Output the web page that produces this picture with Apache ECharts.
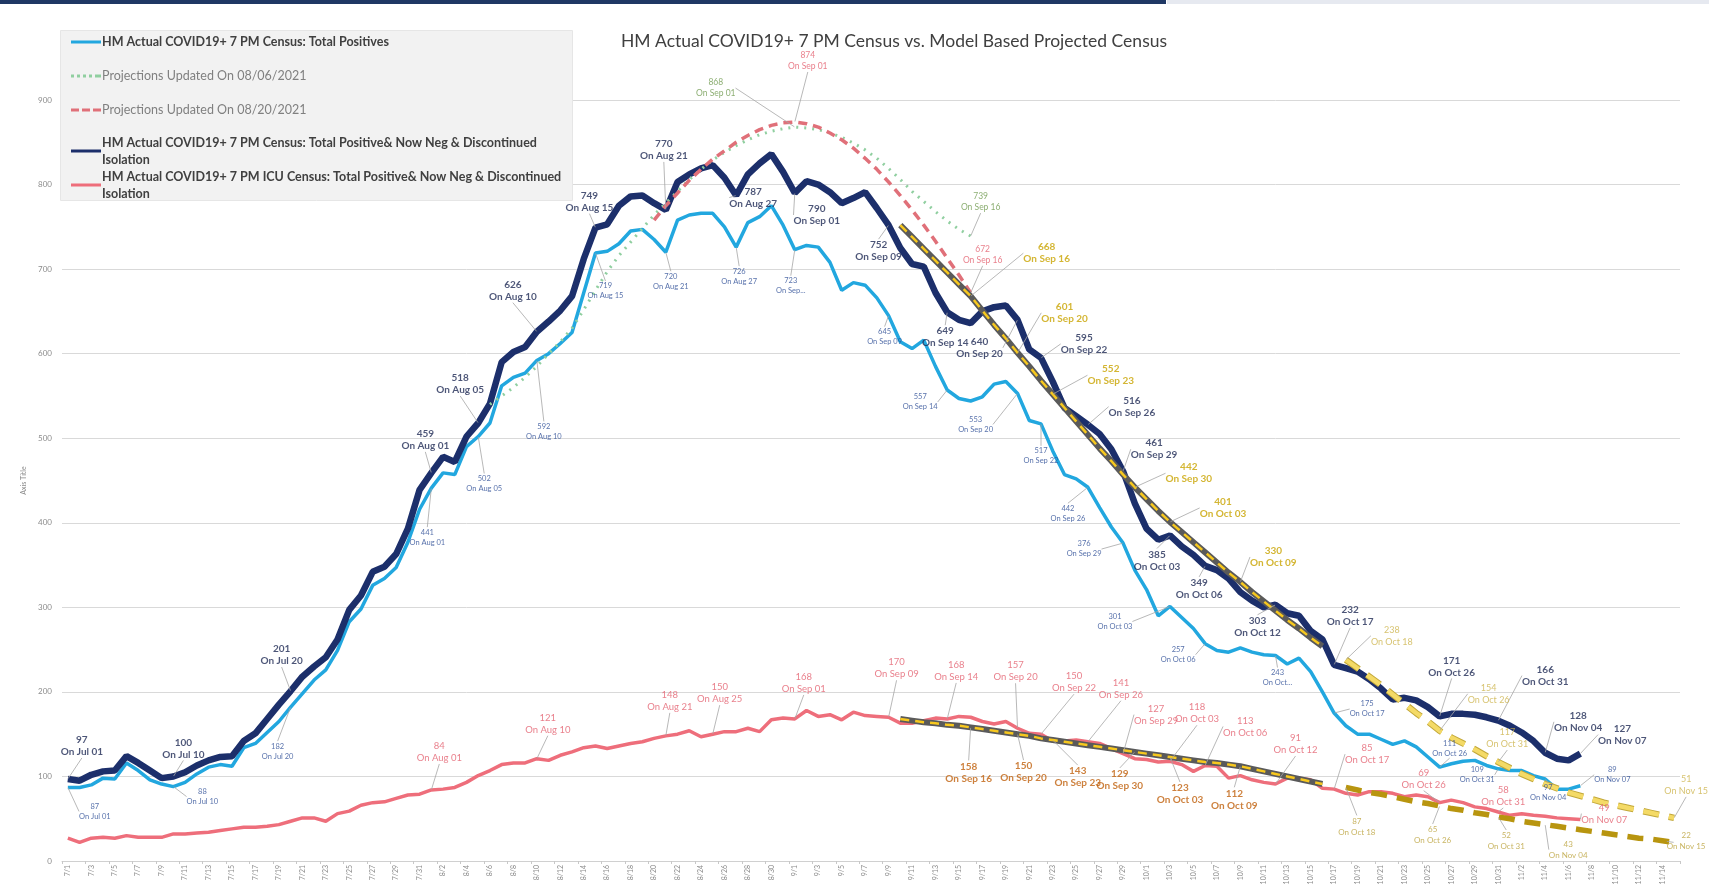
<!DOCTYPE html>
<html>
<head>
<meta charset="utf-8">
<script src="https://cdn.jsdelivr.net/npm/echarts@6/dist/echarts.min.js"></script>
<style>
  html, body { margin: 0; padding: 0; background: #fff; }
  #chart { width: 1709px; height: 892px; }
</style>
</head>
<body>
<div id="chart"></div>
<script>
// categories: 7/1 .. 11/15
var monthDays = [['7', 31], ['8', 31], ['9', 30], ['10', 31], ['11', 15]]
var dates = []
monthDays.forEach(function (m) { for (var i = 1; i <= m[1]; i++) dates.push(m[0] + '/' + i) })
var monthName = { 7: 'Jul', 8: 'Aug', 9: 'Sep', 10: 'Oct', 11: 'Nov' }

// actual census, 7/1 .. 11/7
var censusAll = [
  97, 95, 102, 106, 107, 124, 116, 107, 98, 100, 105, 113, 119, 123, 124, 142, 151, 168, 185, 201, 218, 230, 241, 262, 297, 314, 342, 348, 363, 393, 439,
  459, 478, 472, 502, 518, 541, 590, 602, 608, 626, 638, 651, 668, 712, 749, 753, 775, 786, 787, 778, 770, 803, 812, 819, 823, 808, 787, 812, 825, 836, 815,
  790, 804, 800, 791, 778, 784, 791, 772, 752, 725, 706, 703, 672, 649, 640, 636, 650, 655, 657, 640, 605, 595, 567, 536, 526, 516, 505, 487, 461, 423,
  393, 380, 385, 372, 362, 349, 344, 334, 318, 308, 300, 303, 293, 290, 272, 262, 232, 228, 224, 215, 204, 191, 193, 190, 182, 171, 174, 174, 173, 170, 166,
  160, 152, 142, 128, 121, 119, 127
]
var totalPositives = [
  87, 87, 90, 98, 97, 116, 107, 96, 91, 88, 93, 103, 111, 114, 112, 134, 139, 152, 165, 182, 198, 214, 226, 249, 283, 298, 326, 334, 347, 377, 416,
  441, 459, 457, 490, 502, 518, 562, 572, 577, 592, 600, 612, 625, 672, 719, 721, 730, 745, 747, 735, 720, 758, 764, 766, 766, 750, 726, 755, 762, 775, 752,
  723, 728, 726, 708, 675, 684, 681, 666, 645, 614, 606, 616, 585, 557, 547, 544, 549, 564, 567, 553, 521, 517, 485, 457, 452, 442, 418, 395, 376, 344,
  321, 290, 301, 288, 275, 257, 249, 247, 252, 247, 244, 243, 233, 240, 224, 200, 175, 160, 150, 150, 144, 138, 142, 135, 123, 111, 115, 118, 119, 113, 109,
  107, 107, 101, 97, 85, 85, 89
]
var icuAll = [
  27, 22, 27, 28, 27, 30, 28, 28, 28, 32, 32, 33, 34, 36, 38, 40, 40, 41, 43, 47, 51, 51, 47, 56, 59, 66, 69, 70, 74, 78, 79,
  84, 85, 87, 93, 101, 107, 114, 116, 116, 121, 119, 125, 129, 134, 136, 133, 136, 139, 141, 145, 148, 150, 154, 147, 150, 153, 153, 157, 153, 167, 169,
  168, 178, 171, 173, 167, 176, 172, 171, 170, 163, 163, 166, 169, 168, 171, 170, 165, 162, 165, 157, 151, 150, 142, 142, 143, 141, 139, 133, 127, 121,
  120, 117, 118, 114, 106, 113, 112, 98, 101, 96, 93, 91, 98, 98, 96, 86, 85, 80, 78, 82, 82, 80, 76, 78, 76, 69, 72, 69, 64, 62, 58,
  54, 56, 54, 53, 51, 50, 49
]

// projections (start date + values)
var proj0806Start = '8/6'
var proj0806 = [540, 550, 560, 572, 585, 600, 614, 630, 652, 675, 697, 716, 732, 748, 764, 778, 792, 806, 818, 829, 838, 846, 853, 859, 863, 866,
  868, 867, 865, 861, 856, 849, 841, 831, 819, 806, 792, 780, 768, 757, 747, 739]
var proj0820Start = '8/20'
var proj0820 = [758, 775, 790, 805, 818, 830, 840, 850, 858, 865, 870, 873,
  874, 872, 868, 861, 853, 843, 831, 818, 803, 787, 770, 752, 733, 713, 693, 672]
var projCensusAStart = '9/10'
var projCensusA = [752, 738, 724, 710, 696, 682, 668, 651, 634, 618, 601, 585, 568, 552, 536, 520, 504, 488, 473, 457, 442,
  428, 414, 401, 389, 377, 365, 353, 341, 330, 318, 307, 296, 285, 275, 264, 254]
var projIcuAStart = '9/10'
var projIcuA = [168, 166, 164, 163, 161, 160, 158, 156, 154, 152, 150, 148, 145, 143, 141, 139, 137, 135, 133, 131, 129,
  127, 125, 123, 121, 119, 117, 116, 114, 112, 109, 106, 103, 100, 97, 94, 91]
var projCensusBStart = '10/18'
var projCensusB = [238, 228, 218, 208, 197, 186, 175, 165, 154, 146, 139, 132, 124, 117,
  110, 103, 97, 91, 86, 81, 77, 73, 69, 66, 63, 60, 57, 54, 51]
var projIcuBStart = '10/18'
var projIcuB = [87, 84, 81, 79, 76, 73, 70, 68, 65, 62, 60, 57, 55, 52,
  50, 47, 45, 43, 41, 39, 37, 35, 33, 31, 29, 27, 26, 24, 22]

// data label placement: [date, dx, dy, optional date text]
var censusLabels = [['7/1', 14, -33], ['7/10', 10, -28], ['7/20', -9, -36], ['8/1', -6, -33], ['8/5', -18, -39], ['8/10', -24, -41],
  ['8/15', -6, -26], ['8/21', -2, -60], ['8/27', 17, 2], ['9/1', 22, 22], ['9/9', -10, 26], ['9/14', -2, 25], ['9/20', -38, 28],
  ['9/22', 43, -14], ['9/26', 44, -18], ['9/29', 31, -22], ['10/3', -13, 25], ['10/6', -6, 23], ['10/12', -18, 22], ['10/17', 16, -49],
  ['10/26', 12, -50], ['10/31', 47, -45], ['11/4', 33, -31], ['11/7', 42, -19]]
var positivesLabels = [['7/1', 27, 24], ['7/10', 29, 10], ['7/20', -13, 44], ['8/1', -4, 49], ['8/5', 6, 47], ['8/10', 7, 71],
  ['8/15', 10, 38], ['8/21', 5, 29], ['8/27', 3, 29], ['9/1', -4, 36, 'On Sep...'], ['9/9', -4, 21], ['9/14', -27, 12], ['9/20', -42, 31],
  ['9/22', 0, 32, 'On Sep 22'], ['9/26', -20, 26], ['9/29', -39, 6], ['10/3', -55, 15], ['10/6', -27, 11], ['10/12', 2, 22, 'On Oct...'],
  ['10/17', 33, -4], ['10/26', 10, -19], ['10/31', -21, 6], ['11/4', 3, 14], ['11/7', 32, -11]]
var icuLabels = [['8/1', 8, -38], ['8/10', 11, -35], ['8/21', 4, -35], ['8/25', 7, -41], ['9/1', 9, -36], ['9/9', 8, -49], ['9/14', 9, -48],
  ['9/20', -2, -57], ['9/22', 33, -52], ['9/26', 33, -53], ['9/29', 33, -39], ['10/3', 27, -48], ['10/6', 40, -39], ['10/12', 20, -40],
  ['10/17', 33, -35], ['10/26', -16, -24], ['10/31', 5, -16], ['11/7', 24, -6]]
var proj0806Labels = [['9/1', -79, -39], ['9/16', 10, -34]]
var proj0820Labels = [['9/1', 13, -61], ['9/16', 12, -38]]
var projCensusALabels = [['9/16', 76, -43], ['9/20', 47, -40], ['9/23', 58, -19], ['9/30', 54, -14], ['10/3', 53, -14], ['10/9', 33, -25]]
var projCensusBLabels = [['10/18', 46, -24], ['10/26', 49, -37], ['10/31', 9, -24], ['11/15', 12, -33]]
var projIcuALabels = [['9/16', -2, 45], ['9/20', 6, 38], ['9/23', 25, 37], ['9/30', -15, 28], ['10/3', 10, 37], ['10/9', -6, 33]]
var projIcuBLabels = [['10/18', 11, 39], ['10/26', -7, 29], ['10/31', 8, 24], ['11/4', 23, 25], ['11/15', 12, -1]]

var names = [
  'HM Actual COVID19+ 7 PM Census: Total Positives',
  'Projections Updated On 08/06/2021',
  'Projections Updated On 08/20/2021',
  'HM Actual COVID19+ 7 PM Census: Total Positive& Now Neg & Discontinued Isolation',
  'HM Actual COVID19+ 7 PM ICU Census: Total Positive& Now Neg & Discontinued Isolation'
]

// legend line icons
var iconSolid = 'path://M0,0H30V3H0Z'
var iconDotted = 'path://M0,0h3v3h-3zM6,0h3v3h-3zM12,0h3v3h-3zM18,0h3v3h-3zM24,0h3v3h-3zM27,0h3v3h-3z'
var iconDashed = 'path://M0,0h8v3h-8zM11,0h8v3h-8zM22,0h8v3h-8z'

function pad (start, vals) {
  var out = dates.map(function () { return null })
  var i = dates.indexOf(start)
  vals.forEach(function (v, k) { out[i + k] = v })
  return out
}
function onDate (d) {
  var p = d.split('/')
  return 'On ' + monthName[p[0]] + ' ' + (p[1].length < 2 ? '0' + p[1] : p[1])
}

var sCensus = pad('7/1', censusAll)
var sPositives = pad('7/1', totalPositives)
var sIcu = pad('7/1', icuAll)
var sP0806 = pad(proj0806Start, proj0806)
var sP0820 = pad(proj0820Start, proj0820)
var sPCA = pad(projCensusAStart, projCensusA)
var sPIA = pad(projIcuAStart, projIcuA)
var sPCB = pad(projCensusBStart, projCensusB)
var sPIB = pad(projIcuBStart, projIcuB)

var FONT = 'Lato, "Open Sans", sans-serif'

function labelSeries (full, spec, style) {
  return {
    type: 'scatter',
    z: 20,
    symbol: 'circle',
    symbolSize: 1,
    silent: true,
    itemStyle: { color: 'rgba(0,0,0,0)' },
    data: spec.map(function (s) {
      var v = full[dates.indexOf(s[0])]
      return { value: [s[0], v], txt: v + '\n' + (s[3] || onDate(s[0])) }
    }),
    label: {
      show: true,
      position: 'inside',
      align: 'center',
      verticalAlign: 'middle',
      fontFamily: FONT,
      fontSize: style.size,
      fontWeight: style.bold ? 'bold' : 'normal',
      lineHeight: style.lh,
      color: style.color,
      formatter: function (p) { return p.data.txt }
    },
    labelLine: { show: true, lineStyle: { color: '#a6a6a6', width: 0.8 } },
    labelLayout: function (p) {
      var s = spec[p.dataIndex]
      return { dx: s[1], dy: s[2] }
    }
  }
}

function lineSeries (name, data, color, width, type, z) {
  return {
    name: name,
    type: 'line',
    data: data,
    symbol: 'none',
    z: z,
    connectNulls: false,
    lineStyle: { color: color, width: width, type: type },
    itemStyle: { color: color }
  }
}

var legendText = { fontFamily: FONT, fontSize: 12.5, padding: [0, 0, 0, -4] }

var chart = echarts.init(document.getElementById('chart'))
var option = {
  backgroundColor: '#fff',
  animation: false,
  title: {
    text: 'HM Actual COVID19+ 7 PM Census vs. Model Based Projected Census',
    left: 889,
    top: 27,
    textAlign: 'center',
    textStyle: { fontFamily: FONT, fontSize: 17.5, fontWeight: 'normal', color: '#404040' }
  },
  graphic: [
    { type: 'rect', left: 0, top: 0, shape: { width: 1166, height: 4 }, style: { fill: '#1f3864' }, z: 10 },
    { type: 'rect', left: 1167, top: 0, shape: { width: 542, height: 4 }, style: { fill: '#e6e9f0' }, z: 10 },
    { type: 'rect', left: 60, top: 30, shape: { width: 512, height: 170 }, style: { fill: '#f2f2f2', stroke: '#e6e6e6' }, z: 5 }
  ],
  legend: [
    {
      orient: 'vertical',
      left: 66,
      top: 27,
      itemGap: 14,
      itemWidth: 30,
      itemHeight: 3,
      z: 6,
      data: [
        { name: names[0], icon: iconSolid, textStyle: { fontWeight: 'bold', color: '#404040' } },
        { name: names[1], icon: iconDotted, textStyle: { color: '#808080' } },
        { name: names[2], icon: iconDashed, textStyle: { color: '#808080' } }
      ],
      textStyle: Object.assign({ lineHeight: 20 }, legendText)
    },
    {
      orient: 'vertical',
      left: 66,
      top: 129,
      itemGap: 0,
      itemWidth: 30,
      itemHeight: 3,
      z: 6,
      data: [
        { name: names[3], icon: iconSolid, textStyle: { fontWeight: 'bold', color: '#404040' } },
        { name: names[4], icon: iconSolid, textStyle: { fontWeight: 'bold', color: '#404040' } }
      ],
      formatter: function (n) { return n.replace(' Isolation', '\nIsolation') },
      textStyle: Object.assign({ lineHeight: 17 }, legendText)
    }
  ],
  grid: { left: 62, right: 29, top: 100, bottom: 31, containLabel: false, outerBoundsMode: 'none' },
  xAxis: {
    type: 'category',
    data: dates,
    boundaryGap: true,
    axisLine: { lineStyle: { color: '#d0d0d0' } },
    axisTick: { show: true, interval: 1, length: 3, lineStyle: { color: '#c8c8c8' } },
    axisLabel: { interval: 1, rotate: 90, fontSize: 7, color: '#8c8c8c', fontFamily: FONT, margin: 4 }
  },
  yAxis: {
    type: 'value',
    min: 0,
    max: 900,
    interval: 100,
    name: 'Axis Title',
    nameLocation: 'middle',
    nameGap: 32,
    nameRotate: 90,
    nameTextStyle: { fontSize: 7, color: '#8c8c8c', fontFamily: FONT },
    axisLine: { show: false },
    axisTick: { show: false },
    axisLabel: { fontSize: 8, color: '#8c8c8c', fontFamily: FONT, margin: 10 },
    splitLine: { lineStyle: { color: '#d9d9d9', width: 1 } }
  },
  series: [
    lineSeries(names[4], sIcu, '#ee6e7b', 3.5, 'solid', 2),
    lineSeries(names[0], sPositives, '#22a7df', 3.5, 'solid', 3),
    lineSeries(names[3], sCensus, '#1c2f6b', 6.5, 'solid', 4),
    lineSeries(names[1], sP0806, '#90cfa0', 3, [2, 6], 5),
    lineSeries(names[2], sP0820, '#e07079', 3.5, [9, 6], 5),
    lineSeries('projCensusA_base', sPCA, '#5a5a5a', 6, 'solid', 6),
    lineSeries('projCensusA', sPCA, '#f7c81e', 2.5, [9, 6], 7),
    lineSeries('projIcuA_base', sPIA, '#5a5a5a', 6, 'solid', 6),
    lineSeries('projIcuA', sPIA, '#f7c81e', 2.5, [9, 6], 7),
    lineSeries('projCensusB_base', sPCB, '#c2a83a', 6.5, [16, 10], 6),
    lineSeries('projCensusB', sPCB, '#f4da66', 4.5, [16, 10], 7),
    lineSeries('projIcuB', sPIB, '#b8950f', 5.5, [16, 10], 7),
    labelSeries(sCensus, censusLabels, { color: '#1f2a55', size: 10, bold: true, lh: 12 }),
    labelSeries(sPositives, positivesLabels, { color: '#2d4e96', size: 7.5, bold: false, lh: 10 }),
    labelSeries(sIcu, icuLabels, { color: '#e3606f', size: 9.5, bold: false, lh: 12 }),
    labelSeries(sP0806, proj0806Labels, { color: '#6f9a4f', size: 8.5, bold: false, lh: 11 }),
    labelSeries(sP0820, proj0820Labels, { color: '#e3606f', size: 8.5, bold: false, lh: 11 }),
    labelSeries(sPCA, projCensusALabels, { color: '#c9a400', size: 10, bold: true, lh: 12 }),
    labelSeries(sPCB, projCensusBLabels, { color: '#cdb44c', size: 9, bold: false, lh: 12 }),
    labelSeries(sPIA, projIcuALabels, { color: '#c0620e', size: 10, bold: true, lh: 12 }),
    labelSeries(sPIB, projIcuBLabels, { color: '#bca33c', size: 8, bold: false, lh: 11 })
  ]
}
chart.setOption(option)
</script>
</body>
</html>
